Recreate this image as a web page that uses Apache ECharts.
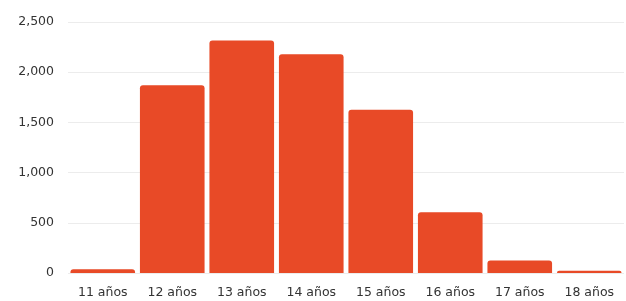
<!DOCTYPE html>
<html><head><meta charset="utf-8">
<script src="https://cdn.jsdelivr.net/npm/echarts@6/dist/echarts.min.js"></script>
<style>html,body{margin:0;padding:0;background:#fff}#c{width:626px;height:301px}</style>
</head><body><div id="c"></div>
<script>
const categories = ['11 años','12 años','13 años','14 años','15 años','16 años','17 años','18 años'];
const values = [38, 1870, 2315, 2180, 1625, 605, 125, 22];
const yTicks = [0, 500, 1000, 1500, 2000, 2500];

const chart = echarts.init(document.getElementById('c'), null, {renderer:'canvas'});
chart.setOption({
  animation:false,
  grid:{left:68, right:2, top:22, bottom:28},
  xAxis:{type:'category', data:categories,
    axisLine:{show:false}, axisTick:{show:false},
    axisLabel:{color:'#333', fontFamily:'DejaVu Sans', fontSize:12.5, margin:13, interval:0}},
  yAxis:{type:'value', min:0, max:yTicks[yTicks.length-1], interval:500,
    axisLine:{show:false}, axisTick:{show:false},
    splitLine:{lineStyle:{color:'#ececec', width:1}},
    axisLabel:{color:'#333', fontFamily:'DejaVu Sans', fontSize:12.5, margin:14,
      formatter:v=>v.toLocaleString('en-US')}},
  series:[{type:'bar', data:values, barCategoryGap:'7%',
    itemStyle:{color:'#e84a27', borderRadius:[3,3,0,0]}}]
});
</script></body></html>
